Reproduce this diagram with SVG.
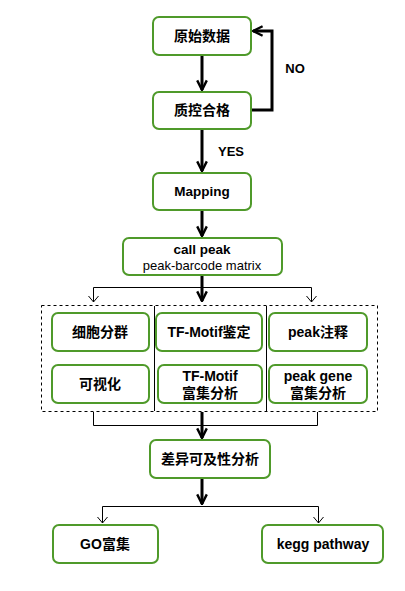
<svg xmlns="http://www.w3.org/2000/svg" width="405" height="591" viewBox="0 0 405 591">
<defs>
<marker id="ah" viewBox="0 0 10 10" refX="9" refY="5" markerWidth="4" markerHeight="4" orient="auto" markerUnits="strokeWidth"><path d="M1,1 L9,5 L1,9" fill="none" stroke="#000" stroke-width="2"/></marker>
</defs>
<style>
.n{fill:#fff;stroke:#4f9a2a;stroke-width:2}
.t{font-family:"Liberation Sans","Noto Sans CJK SC",sans-serif;font-weight:bold;font-size:14px;fill:#000;text-anchor:middle}
.s{font-family:"Liberation Sans","Noto Sans CJK SC",sans-serif;font-size:13px;fill:#000;text-anchor:middle}
.k{fill:none;stroke:#000;stroke-width:3}
.h{fill:none;stroke:#000;stroke-width:1}
.d{fill:none;stroke:#000;stroke-width:1;stroke-dasharray:3,3}
</style>
<rect width="405" height="591" fill="#fff"/>
<g id="connectors">
<path class="k" d="M202,55 V90" marker-end="url(#ah)"/>
<path class="k" d="M251,110 H272 V31 H253" marker-end="url(#ah)"/>
<path class="k" d="M202,129 V171" marker-end="url(#ah)"/>
<path class="k" d="M202,210 V236" marker-end="url(#ah)"/>
<path class="k" d="M202,276 V301" marker-end="url(#ah)"/>
<path class="h" d="M93.5,302 V287.5 H311.5 V302"/>
<path class="h" d="M88.5,296 L93.5,302 L98.5,296 M306.5,296 L311.5,302 L316.5,296"/>
<path class="h" d="M93.5,412 V425.5 H317.5 V412"/>
<path class="k" d="M202,412 V438" marker-end="url(#ah)"/>
<path class="k" d="M202,478 V504" marker-end="url(#ah)"/>
<path class="h" d="M102.5,523 V506.5 H318.5 V523"/>
<path class="h" d="M97.5,517 L102.5,523 L107.5,517 M313.5,517 L318.5,523 L323.5,517"/>
<text class="t" x="295" y="73" style="font-size:13px">NO</text>
<text class="t" x="231" y="156" style="font-size:13px">YES</text>
</g>
<g id="group">
<rect class="d" x="41.5" y="305.5" width="336" height="106"/>
<path class="h" d="M154.5,306 V411 M266.5,306 V411"/>
</g>
<g id="n1"><rect class="n" x="153" y="17" width="98" height="38" rx="6"/><text class="t" x="202" y="41">原始数据</text></g>
<g id="n2"><rect class="n" x="153" y="92" width="98" height="37" rx="6"/><text class="t" x="202" y="115">质控合格</text></g>
<g id="n3"><rect class="n" x="153" y="173" width="98" height="37" rx="6"/><text class="t" x="202" y="196" style="font-size:13.5px">Mapping</text></g>
<g id="n4"><rect class="n" x="123" y="238" width="159" height="37" rx="6"/><text class="t" x="202" y="254" style="font-size:13.5px">call peak</text><text class="s" x="202" y="270">peak-barcode matrix</text></g>
<g id="n5"><rect class="n" x="52" y="313" width="97" height="38" rx="6"/><text class="t" x="100" y="337">细胞分群</text></g>
<g id="n6"><rect class="n" x="156" y="313" width="106" height="38" rx="6"/><text class="t" x="209" y="337">TF-Motif鉴定</text></g>
<g id="n7"><rect class="n" x="269" y="313" width="98" height="38" rx="6"/><text class="t" x="318" y="337">peak注释</text></g>
<g id="n8"><rect class="n" x="52" y="365" width="97" height="38" rx="6"/><text class="t" x="100" y="389">可视化</text></g>
<g id="n9"><rect class="n" x="158" y="365" width="104" height="38" rx="6"/><text class="t" x="210" y="381">TF-Motif</text><text class="t" x="210" y="398">富集分析</text></g>
<g id="n10"><rect class="n" x="269" y="365" width="98" height="38" rx="6"/><text class="t" x="318" y="381">peak gene</text><text class="t" x="318" y="398">富集分析</text></g>
<g id="n11"><rect class="n" x="150" y="440" width="120" height="38" rx="6"/><text class="t" x="210" y="464">差异可及性分析</text></g>
<g id="n12"><rect class="n" x="53" y="525" width="105" height="38" rx="6"/><text class="t" x="105" y="549">GO富集</text></g>
<g id="n13"><rect class="n" x="262" y="525" width="121" height="38" rx="6"/><text class="t" x="323" y="549">kegg pathway</text></g>
</svg>
